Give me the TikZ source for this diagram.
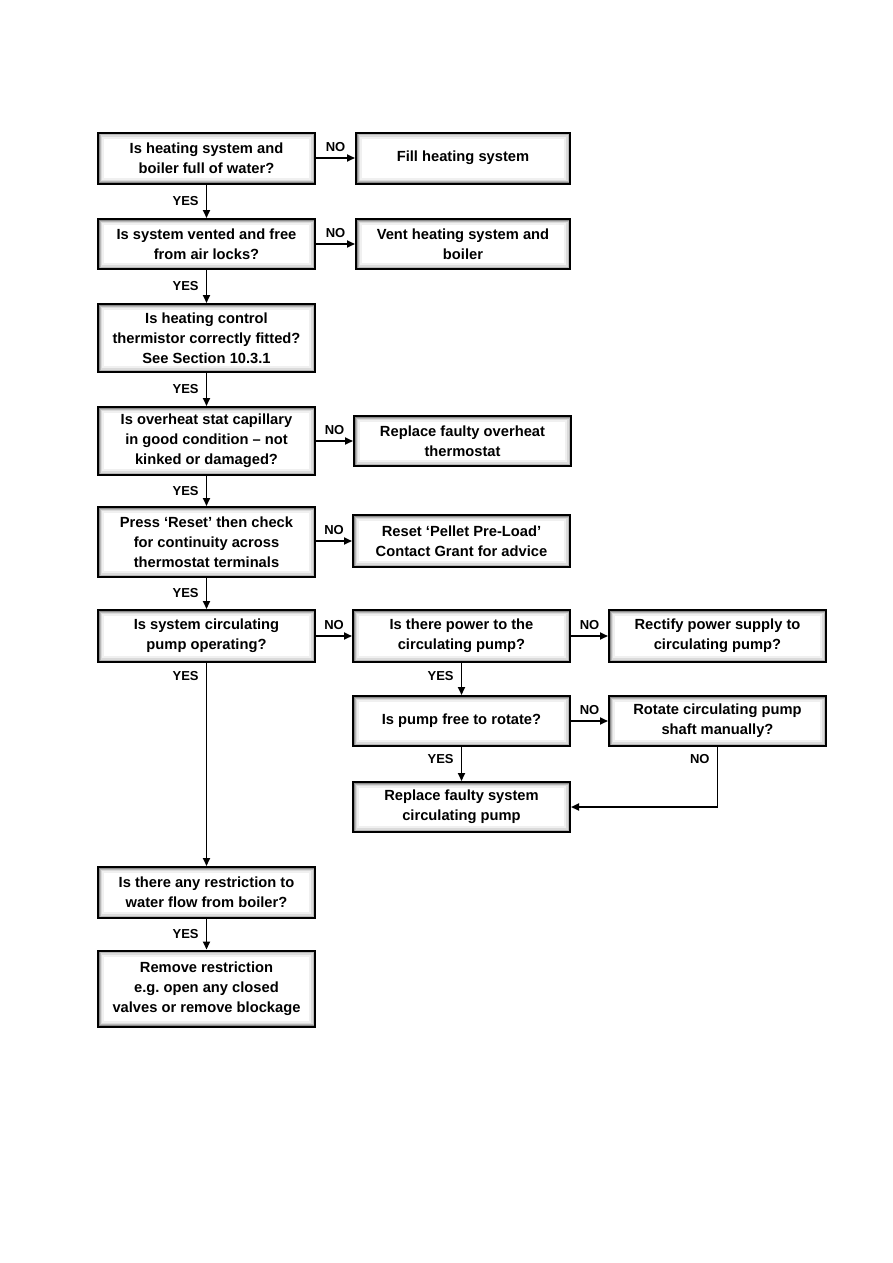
\documentclass[tikz,border=0pt]{standalone}
\usepackage{fontspec}
\setmainfont{Liberation Sans}
\usetikzlibrary{arrows.meta}
\begin{document}
\begin{tikzpicture}[x=1pt,y=-1pt,
  fbox/.style={draw=black, line width=2pt, fill=white, align=center, inner sep=2pt,
    font=\fontsize{14.7}{20}\selectfont\bfseries,
    path picture={
      \draw[black!6, line width=12pt] (path picture bounding box.south west) rectangle (path picture bounding box.north east);
      \draw[black!14, line width=8pt] (path picture bounding box.south west) rectangle (path picture bounding box.north east);
      \draw[black!28, line width=5pt] (path picture bounding box.south west) rectangle (path picture bounding box.north east);
      \draw[black!45, line width=3pt] (path picture bounding box.south west) rectangle (path picture bounding box.north east);
    }},
  wbox/.style={fbox, minimum width=217pt},
  lab/.style={font=\fontsize{13}{15}\selectfont\bfseries, inner sep=1pt},
  arr/.style={line width=1.8pt, -{Triangle[length=8pt,width=7pt]}},
]
\useasboundingbox (0,0) rectangle (893,1263);
\fill[white] (0,0) rectangle (893,1263);

\node[wbox, minimum height=51pt] (A) at (206.5,158) {Is heating system and\\boiler full of water?};
\node[wbox, minimum width=214pt, minimum height=51pt] (B) at (463,158) {Fill heating system};
\node[wbox, minimum height=50pt] (C) at (206.5,244) {Is system vented and free\\from air locks?};
\node[wbox, minimum width=214pt, minimum height=50pt] (D) at (463,244) {Vent heating system and\\boiler};
\node[wbox, minimum height=68pt] (E) at (206.5,338) {Is heating control\\thermistor correctly fitted?\\See Section 10.3.1};
\node[wbox, minimum height=68pt] (F) at (206.5,441) {Is overheat stat capillary\\in good condition -- not\\kinked or damaged?};
\node[wbox, minimum height=50pt] (G) at (462.5,441) {Replace faulty overheat\\thermostat};
\node[wbox, minimum height=70pt] (H) at (206.5,542) {Press ‘Reset’ then check\\for continuity across\\thermostat terminals};
\node[wbox, minimum height=52pt] (I) at (461.5,541) {Reset ‘Pellet Pre-Load’\\Contact Grant for advice};
\node[wbox, minimum height=52pt] (J) at (206.5,636) {Is system circulating\\pump operating?};
\node[wbox, minimum height=52pt] (K) at (461.5,636) {Is there power to the\\circulating pump?};
\node[wbox, minimum height=52pt] (L) at (717.5,636) {Rectify power supply to\\circulating pump?};
\node[wbox, minimum height=50pt] (M) at (461.5,721) {Is pump free to rotate?};
\node[wbox, minimum height=50pt] (N) at (717.5,721) {Rotate circulating pump\\shaft manually?};
\node[wbox, minimum height=50pt] (O) at (461.5,807) {Replace faulty system\\circulating pump};
\node[wbox, minimum height=51pt] (P) at (206.5,892.5) {Is there any restriction to\\water flow from boiler?};
\node[wbox, minimum height=76pt] (Q) at (206.5,988.5) {Remove restriction\\e.g.\ open any closed\\valves or remove blockage};

% horizontal NO arrows
\draw[arr] (A) -- node[lab, above=4pt] {NO} (B);
\draw[arr] (C) -- node[lab, above=4pt] {NO} (D);
\draw[arr] (F) -- node[lab, above=4pt] {NO} (G);
\draw[arr] (H.east |- I.west) -- node[lab, above=4pt] {NO} (I.west);
\draw[arr] (J) -- node[lab, above=4pt] {NO} (K);
\draw[arr] (K) -- node[lab, above=4pt] {NO} (L);
\draw[arr] (M) -- node[lab, above=4pt] {NO} (N);

% vertical YES arrows
\draw[arr] (A) -- node[lab, left=6pt] {YES} (C);
\draw[arr] (C) -- node[lab, left=6pt] {YES} (E);
\draw[arr] (E) -- node[lab, left=6pt] {YES} (F);
\draw[arr] (F) -- node[lab, left=6pt] {YES} (H);
\draw[arr] (H) -- node[lab, left=6pt] {YES} (J);
\draw[arr] (J) -- node[lab, left=6pt, pos=0.065] {YES} (P);
\draw[arr] (P) -- node[lab, left=6pt] {YES} (Q);
\draw[arr] (K.south -| M.north) -- node[lab, left=6pt, pos=0.4] {YES} (M.north);
\draw[arr] (M) -- node[lab, left=6pt, pos=0.35] {YES} (O);

% NO from N down and left to O
\draw[arr] (N.south) |- node[lab, left=6pt, pos=0.1] {NO} (O.east);
\end{tikzpicture}
\end{document}
